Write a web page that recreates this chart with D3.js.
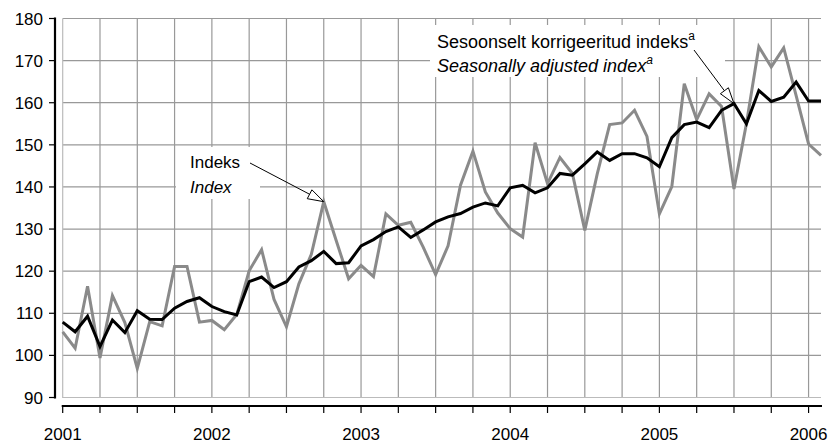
<!DOCTYPE html>
<html>
<head>
<meta charset="utf-8">
<script src="https://cdn.jsdelivr.net/npm/d3@7"></script>
<style>
    body { margin: 0; background: #fff; }
    text { font-family: "Liberation Sans", Arial, Helvetica, sans-serif; fill: #000; }
    .grid line { stroke: #999; stroke-width: 1.2; }
    .border { fill: none; stroke: #bbb; stroke-width: 1.2; }
    .axis-line { stroke: #000; stroke-width: 2.2; }
    .tick-mark { stroke: #000; stroke-width: 1.2; }
    .tick-label { font-size: 17px; }
    .note { font-size: 17px; }
    .note-top { font-size: 18px; }
</style>
</head>
<body>
<div id="chart"></div>
<script>

// year labels, one per January
var years = ["2001", "2002", "2003", "2004", "2005", "2006"];

// Indeks / Index, monthly Jan 2001 - Feb 2006
var indexValues = [
    105.6, 101.7, 116.4, 99.4, 114.2, 107.8, 96.9, 108.0, 107.0, 121.1, 121.1, 107.9,
    108.3, 106.1, 109.7, 120.1, 125.1, 113.3, 106.8, 117.0, 124.0, 136.5, 127.3, 118.2,
    121.4, 118.7, 133.6, 130.9, 131.6, 125.7, 119.2, 126.0, 140.4, 148.5, 138.8, 133.8,
    130.1, 128.1, 150.5, 140.8, 147.0, 143.2, 129.7, 143.1, 154.8, 155.2, 158.2, 152.0,
    133.6, 140.1, 164.5, 156.0, 162.1, 159.1, 139.5, 155.0, 173.3, 168.5, 173.0, 161.7,
    150.2, 147.5
];

// Sesoonselt korrigeeritud indeks / Seasonally adjusted index
var adjustedValues = [
    107.9, 105.6, 109.3, 102.1, 108.4, 105.4, 110.6, 108.6, 108.5, 111.2, 112.8, 113.7,
    111.6, 110.4, 109.6, 117.5, 118.6, 116.1, 117.5, 121.0, 122.5, 124.7, 121.8, 122.0,
    126.0, 127.5, 129.4, 130.5, 128.0, 129.8, 131.7, 132.9, 133.7, 135.2, 136.2, 135.5,
    139.8, 140.4, 138.6, 139.8, 143.2, 142.8, 145.5, 148.3, 146.3, 147.9, 147.9, 146.9,
    144.8, 151.7, 154.8, 155.4, 154.1, 158.2, 159.8, 155.0, 162.9, 160.3, 161.3, 164.9,
    160.4, 160.4
];

var yTicks = [90, 100, 110, 120, 130, 140, 150, 160, 170, 180];

var width = 830, height = 444;

var svg = d3.select("#chart").append("svg")
    .attr("width", width)
    .attr("height", height);

// month index -> x, value -> y
var x = d3.scaleLinear()
    .domain([0, indexValues.length - 1])
    .range([62.7, 821]);

var y = d3.scaleLinear()
    .domain([90, 180])
    .range([397.5, 18.5]);

var months = d3.range(indexValues.length);
var quarterTicks = months.filter(function(i) { return i % 3 === 0; });

//======= Grid ======//
var grid = svg.append("g").attr("class", "grid");

grid.selectAll(".hgrid")
    .data(yTicks.slice(1))
    .enter().append("line")
    .attr("x1", x(0)).attr("x2", x.range()[1])
    .attr("y1", function(d) { return y(d); })
    .attr("y2", function(d) { return y(d); });

grid.selectAll(".vgrid")
    .data(quarterTicks.slice(1))
    .enter().append("line")
    .attr("x1", function(d) { return x(d); })
    .attr("x2", function(d) { return x(d); })
    .attr("y1", y(180)).attr("y2", y(90));

// plot border: left and bottom only
svg.append("path")
    .attr("class", "border")
    .attr("d", "M" + x(0) + "," + y(180) + "V" + y(90) + "H" + x.range()[1]);

//======= Y axis (set off to the left) ======//
var yAxisX = 55;
svg.append("line")
    .attr("class", "axis-line")
    .attr("x1", yAxisX).attr("x2", yAxisX)
    .attr("y1", y(180) - 1).attr("y2", y(90) + 1);

svg.selectAll(".ytick")
    .data(yTicks)
    .enter().append("line")
    .attr("class", "tick-mark")
    .attr("x1", yAxisX - 6).attr("x2", yAxisX)
    .attr("y1", function(d) { return y(d); })
    .attr("y2", function(d) { return y(d); });

svg.selectAll(".ylabel")
    .data(yTicks)
    .enter().append("text")
    .attr("class", "tick-label")
    .attr("x", 43)
    .attr("y", function(d) { return y(d) + 6; })
    .attr("text-anchor", "end")
    .text(function(d) { return d; });

//======= X axis (set off below) ======//
var xAxisY = 406;
svg.append("line")
    .attr("class", "axis-line")
    .attr("x1", x(0) - 1).attr("x2", x.range()[1] + 1)
    .attr("y1", xAxisY).attr("y2", xAxisY);

svg.selectAll(".xtick")
    .data(quarterTicks)
    .enter().append("line")
    .attr("class", "tick-mark")
    .attr("x1", function(d) { return x(d); })
    .attr("x2", function(d) { return x(d); })
    .attr("y1", xAxisY).attr("y2", xAxisY + 7);

svg.selectAll(".xlabel")
    .data(years)
    .enter().append("text")
    .attr("class", "tick-label")
    .attr("x", function(d, i) { return x(i * 12); })
    .attr("y", 440)
    .attr("text-anchor", "middle")
    .text(function(d) { return d; });

//======= Lines ======//
var valueLine = d3.line()
    .x(function(d, i) { return x(i); })
    .y(function(d) { return y(d); });

svg.append("path")
    .datum(indexValues)
    .attr("fill", "none")
    .attr("stroke", "#8a8a8a")
    .attr("stroke-width", 3)
    .attr("d", valueLine);

svg.append("path")
    .datum(adjustedValues)
    .attr("fill", "none")
    .attr("stroke", "#000")
    .attr("stroke-width", 3)
    .attr("d", valueLine);

//======= Annotations ======//
function arrow(x1, y1, x2, y2) {
    var ang = Math.atan2(y2 - y1, x2 - x1);
    var len = 16, half = 5;
    var bx = x2 - len * Math.cos(ang), by = y2 - len * Math.sin(ang);
    var px = -Math.sin(ang) * half, py = Math.cos(ang) * half;
    svg.append("line")
        .attr("x1", x1).attr("y1", y1)
        .attr("x2", bx).attr("y2", by)
        .attr("stroke", "#000").attr("stroke-width", 1);
    svg.append("path")
        .attr("d", "M" + x2 + "," + y2 + "L" + (bx + px) + "," + (by + py) +
            "L" + (bx - px) + "," + (by - py) + "Z")
        .attr("fill", "#fff").attr("stroke", "#000").attr("stroke-width", 1);
}

// Index note
svg.append("rect")
    .attr("x", 176).attr("y", 147).attr("width", 84).attr("height", 52)
    .attr("fill", "#fff");
svg.append("text").attr("class", "note").attr("x", 190).attr("y", 168).text("Indeks");
svg.append("text").attr("class", "note").attr("x", 190).attr("y", 193)
    .style("font-style", "italic").text("Index");
arrow(250, 163, x(21), y(indexValues[21]));

// Seasonally adjusted note
svg.append("rect")
    .attr("x", 430).attr("y", 25).attr("width", 295).attr("height", 52)
    .attr("fill", "#fff");
var t1 = svg.append("text").attr("class", "note-top").attr("x", 437).attr("y", 48);
t1.append("tspan").text("Sesoonselt korrigeeritud indeks");
t1.append("tspan").attr("dy", -8).style("font-size", "12px").text("a");
var t2 = svg.append("text").attr("class", "note-top").attr("x", 437).attr("y", 72)
    .style("font-style", "italic");
t2.append("tspan").text("Seasonally adjusted index");
t2.append("tspan").attr("dy", -8).style("font-size", "12px").text("a");
arrow(694, 50, x(54), y(adjustedValues[54]));

</script>
</body>
</html>
